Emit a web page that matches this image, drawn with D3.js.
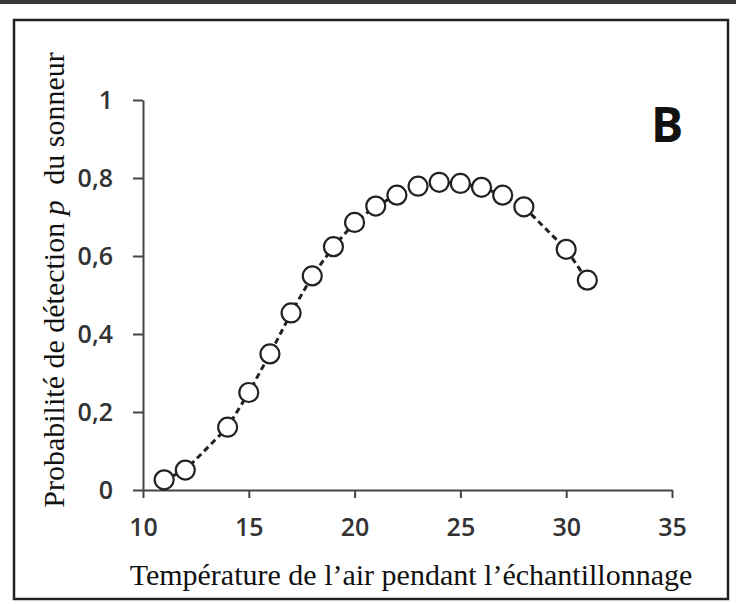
<!DOCTYPE html>
<html>
<head>
<meta charset="utf-8">
<script src="https://cdn.jsdelivr.net/npm/d3@7"></script>
<style>
  body { margin: 0; background: #fff; }
  .tick text { font-family: "Open Sans", sans-serif; font-weight: 600; fill: #333; }
</style>
</head>
<body>
<div id="my_dataviz"></div>
<script>
// data
var temperatures = [11, 12, 14, 15, 16, 17, 18, 19, 20, 21, 22, 23, 24, 25, 26, 27, 28, 30, 31];
var probabilities = [0.026, 0.051, 0.161, 0.25, 0.349, 0.454, 0.549, 0.624, 0.686, 0.728, 0.756, 0.779, 0.789, 0.786, 0.776, 0.756, 0.726, 0.617, 0.538];
var xTicks = [10, 15, 20, 25, 30, 35];
var yTicks = [0, 0.2, 0.4, 0.6, 0.8, 1];

var data = temperatures.map(function(t, i) { return {x: t, y: probabilities[i]}; });

var W = 736, H = 604;

var svg = d3.select("#my_dataviz")
  .append("svg")
    .attr("width", W)
    .attr("height", H);

// dark strip on top
svg.append("rect")
  .attr("x", 0).attr("y", 0)
  .attr("width", W).attr("height", 4)
  .attr("fill", "#3a3a3a");

// frame
svg.append("rect")
  .attr("x", 14).attr("y", 20)
  .attr("width", 714).attr("height", 579)
  .attr("fill", "none")
  .attr("stroke", "#222")
  .attr("stroke-width", 2.5);

// scales
var x = d3.scaleLinear().domain([10, 35]).range([143, 672]);
var y = d3.scaleLinear().domain([0, 1]).range([490, 100]);

// x axis
var gx = svg.append("g")
  .attr("transform", "translate(0," + y(0) + ")")
  .call(d3.axisBottom(x).tickValues(xTicks).tickSize(8).tickSizeOuter(0).tickPadding(20));
gx.selectAll("text").style("font-size", "25px");

// y axis
var gy = svg.append("g")
  .attr("transform", "translate(" + x(10) + ",0)")
  .call(d3.axisLeft(y).tickValues(yTicks).tickSize(10).tickSizeOuter(0).tickPadding(20)
    .tickFormat(function(d) { return String(d).replace(".", ","); }));
gy.selectAll("text").style("font-size", "25px");

svg.selectAll(".domain, .tick line")
  .attr("stroke", "#444")
  .attr("stroke-width", 2);

// dashed line through the points
var line = d3.line()
  .x(function(d) { return x(d.x); })
  .y(function(d) { return y(d.y); });

svg.append("path")
  .datum(data)
  .attr("d", line)
  .attr("fill", "none")
  .attr("stroke", "#222")
  .attr("stroke-width", 3)
  .attr("stroke-dasharray", "6,4");

// open circles
svg.selectAll(".pt")
  .data(data)
  .enter()
  .append("circle")
    .attr("class", "pt")
    .attr("cx", function(d) { return x(d.x); })
    .attr("cy", function(d) { return y(d.y); })
    .attr("r", 9.5)
    .attr("fill", "#fff")
    .attr("stroke", "#222")
    .attr("stroke-width", 2.2);

// panel letter
svg.append("text")
  .attr("x", 667)
  .attr("y", 142)
  .attr("text-anchor", "middle")
  .style("font-family", "Open Sans, sans-serif")
  .style("font-weight", 700)
  .style("font-size", "48px")
  .attr("fill", "#111")
  .text("B");

// x title
svg.append("text")
  .attr("x", 411)
  .attr("y", 585)
  .attr("text-anchor", "middle")
  .style("font-family", "Liberation Serif, serif")
  .style("font-size", "30px")
  .attr("fill", "#111")
  .text("Température de l’air pendant l’échantillonnage");

// y title
var ytitle = svg.append("text")
  .attr("transform", "translate(64,280) rotate(-90)")
  .attr("text-anchor", "middle")
  .style("font-family", "Liberation Serif, serif")
  .style("font-size", "30px")
  .attr("fill", "#111");
ytitle.append("tspan").text("Probabilité de détection ");
ytitle.append("tspan").style("font-style", "italic").text("p");
ytitle.append("tspan").attr("dx", 8).text(" du sonneur");
</script>
</body>
</html>
